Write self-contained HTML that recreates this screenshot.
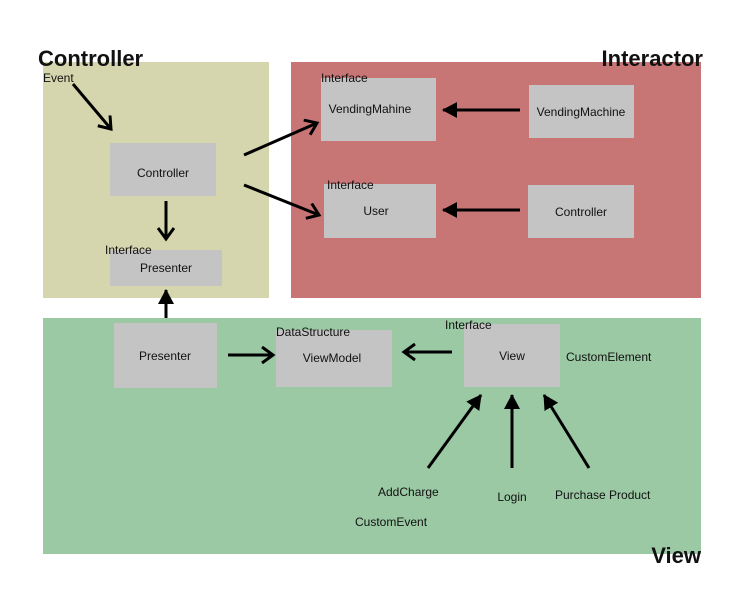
<!DOCTYPE html>
<html><head><meta charset="utf-8"><style>
html,body{margin:0;padding:0;background:#fff;width:743px;height:603px;overflow:hidden}
svg{display:block}
text{font-family:"Liberation Sans",sans-serif;fill:#111}
</style></head><body>
<svg width="743" height="603" viewBox="0 0 743 603" xmlns="http://www.w3.org/2000/svg">
<defs>
<marker id="open" markerWidth="16" markerHeight="18" refX="12" refY="9" orient="auto" markerUnits="userSpaceOnUse">
<path d="M1,1 L12,9 L1,17" fill="none" stroke="#000" stroke-width="3"/>
</marker>
<marker id="fill" markerWidth="16" markerHeight="16" refX="14" refY="8" orient="auto" markerUnits="userSpaceOnUse">
<path d="M0,0 L15,8 L0,16 Z" fill="#000"/>
</marker>
</defs>
<rect x="43" y="62" width="226" height="236" fill="#d5d6ae"/>
<rect x="291" y="62" width="410" height="236" fill="#c87675"/>
<rect x="43" y="318" width="658" height="236" fill="#9bc9a4"/>

<text x="38" y="66" font-size="22" font-weight="bold">Controller</text>
<text x="703" y="66" font-size="22" font-weight="bold" text-anchor="end">Interactor</text>
<text x="701" y="563" font-size="22" font-weight="bold" text-anchor="end">View</text>

<g fill="#c4c4c4">
<rect x="110" y="143" width="106" height="53"/>
<rect x="110" y="250" width="112" height="36"/>
<rect x="321" y="78" width="115" height="63"/>
<rect x="529" y="85" width="105" height="53"/>
<rect x="324" y="184" width="112" height="54"/>
<rect x="528" y="185" width="106" height="53"/>
<rect x="114" y="323" width="103" height="65"/>
<rect x="276" y="330" width="116" height="57"/>
<rect x="464" y="324" width="96" height="63"/>
</g>

<g font-size="12">
<text x="43" y="82">Event</text>
<text x="163" y="177" text-anchor="middle">Controller</text>
<text x="105" y="254">Interface</text>
<text x="166" y="272" text-anchor="middle">Presenter</text>
<text x="321" y="82">Interface</text>
<text x="370" y="113" text-anchor="middle">VendingMahine</text>
<text x="581" y="116" text-anchor="middle">VendingMachine</text>
<text x="327" y="189">Interface</text>
<text x="376" y="215" text-anchor="middle">User</text>
<text x="581" y="216" text-anchor="middle">Controller</text>
<text x="165" y="360" text-anchor="middle">Presenter</text>
<text x="276" y="336">DataStructure</text>
<text x="332" y="362" text-anchor="middle">ViewModel</text>
<text x="445" y="329">Interface</text>
<text x="512" y="360" text-anchor="middle">View</text>
<text x="566" y="361">CustomElement</text>
<text x="378" y="496">AddCharge</text>
<text x="512" y="501" text-anchor="middle">Login</text>
<text x="555" y="499">Purchase Product</text>
<text x="355" y="526">CustomEvent</text>
</g>

<g stroke="#000" stroke-width="3" fill="none">
<line x1="73" y1="84" x2="111" y2="129" marker-end="url(#open)"/>
<line x1="166" y1="201" x2="166" y2="239" marker-end="url(#open)"/>
<line x1="244" y1="155" x2="317" y2="123" marker-end="url(#open)"/>
<line x1="244" y1="185" x2="319" y2="215" marker-end="url(#open)"/>
<line x1="228" y1="355" x2="273" y2="355" marker-end="url(#open)"/>
<line x1="452" y1="352" x2="404" y2="352" marker-end="url(#open)"/>
<line x1="520" y1="110" x2="443" y2="110" marker-end="url(#fill)"/>
<line x1="520" y1="210" x2="443" y2="210" marker-end="url(#fill)"/>
<line x1="166" y1="318" x2="166" y2="290" marker-end="url(#fill)"/>
<line x1="428" y1="468" x2="481" y2="395" marker-end="url(#fill)"/>
<line x1="512" y1="468" x2="512" y2="395" marker-end="url(#fill)"/>
<line x1="589" y1="468" x2="544" y2="395" marker-end="url(#fill)"/>
</g>
</svg>
</body></html>
